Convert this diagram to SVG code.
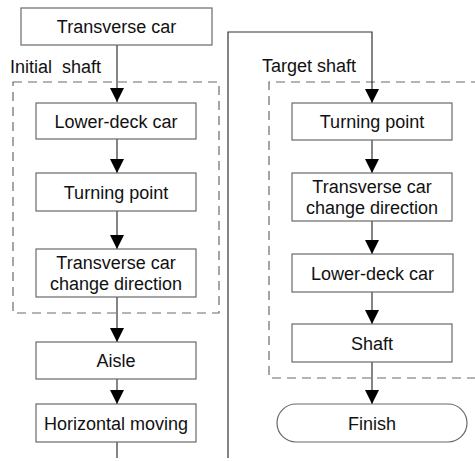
<svg xmlns="http://www.w3.org/2000/svg" width="475" height="461" viewBox="0 0 475 461">
  <style>
    .box { fill: #ffffff; stroke: #6a6a6a; stroke-width: 1.2; }
    .region { fill: none; stroke: #6a6a6a; stroke-width: 1.2; stroke-dasharray: 9 6; }
    .link { fill: none; stroke: #333333; stroke-width: 1.2; }
    .label { font-family: "Liberation Sans", Arial, sans-serif; font-size: 18px; fill: #111111; text-anchor: middle; }
    .title { font-family: "Liberation Sans", Arial, sans-serif; font-size: 18px; fill: #111111; }
  </style>
  <defs>
    <marker id="arrow" markerWidth="14" markerHeight="15" refX="14" refY="7" orient="auto" markerUnits="userSpaceOnUse">
      <path d="M0,0 L14,7 L0,14 Z" fill="#000000"/>
    </marker>
  </defs>
  <rect width="475" height="461" fill="#ffffff"/>

  <!-- shaft regions -->
  <g id="initial-shaft">
    <rect class="region" x="13" y="82" width="206" height="231"/>
    <text class="title" x="10" y="73" xml:space="preserve">Initial  shaft</text>
  </g>
  <g id="target-shaft">
    <path class="region" d="M480,82 H269 V378 H480"/>
    <text class="title" x="262" y="72">Target shaft</text>
  </g>

  <!-- connectors -->
  <g id="connectors">
    <path class="link" d="M117,45 V102" marker-end="url(#arrow)"/>
    <path class="link" d="M117,139 V173" marker-end="url(#arrow)"/>
    <path class="link" d="M117,211 V249" marker-end="url(#arrow)"/>
    <path class="link" d="M117,297 V342" marker-end="url(#arrow)"/>
    <path class="link" d="M117,379 V404" marker-end="url(#arrow)"/>
    <path class="link" d="M117,442 V458"/>
    <path class="link" d="M228,458 V32 H372 V103" marker-end="url(#arrow)"/>
    <path class="link" d="M372,140 V173" marker-end="url(#arrow)"/>
    <path class="link" d="M372,221 V254" marker-end="url(#arrow)"/>
    <path class="link" d="M372,292 V324" marker-end="url(#arrow)"/>
    <path class="link" d="M372,362 V404" marker-end="url(#arrow)"/>
  </g>

  <!-- left column -->
  <g id="transverse-car">
    <rect class="box" x="21" y="8" width="191" height="37"/>
    <text class="label" x="116.5" y="32.5">Transverse car</text>
  </g>
  <g id="lower-deck-car-1">
    <rect class="box" x="36" y="103" width="160" height="36"/>
    <text class="label" x="116" y="127.5">Lower-deck car</text>
  </g>
  <g id="turning-point-1">
    <rect class="box" x="36" y="173" width="160" height="38"/>
    <text class="label" x="116" y="198.5">Turning point</text>
  </g>
  <g id="change-direction-1">
    <rect class="box" x="36" y="249" width="160" height="48"/>
    <text class="label" x="116" y="268.5">Transverse car</text>
    <text class="label" x="116" y="289.5">change direction</text>
  </g>
  <g id="aisle">
    <rect class="box" x="36" y="342" width="160" height="37"/>
    <text class="label" x="116" y="366.5">Aisle</text>
  </g>
  <g id="horizontal-moving">
    <rect class="box" x="36" y="404" width="160" height="38"/>
    <text class="label" x="116" y="429.5">Horizontal moving</text>
  </g>

  <!-- right column -->
  <g id="turning-point-2">
    <rect class="box" x="292" y="103" width="160" height="37"/>
    <text class="label" x="372" y="128">Turning point</text>
  </g>
  <g id="change-direction-2">
    <rect class="box" x="292" y="173" width="160" height="48"/>
    <text class="label" x="372" y="192.5">Transverse car</text>
    <text class="label" x="372" y="213.5">change direction</text>
  </g>
  <g id="lower-deck-car-2">
    <rect class="box" x="292" y="254" width="161" height="38"/>
    <text class="label" x="372.5" y="279.5">Lower-deck car</text>
  </g>
  <g id="shaft">
    <rect class="box" x="292" y="324" width="160" height="38"/>
    <text class="label" x="372" y="349.5">Shaft</text>
  </g>
  <g id="finish">
    <rect class="box" x="277" y="404" width="190" height="38" rx="19" ry="19"/>
    <text class="label" x="372" y="429.5">Finish</text>
  </g>
</svg>
